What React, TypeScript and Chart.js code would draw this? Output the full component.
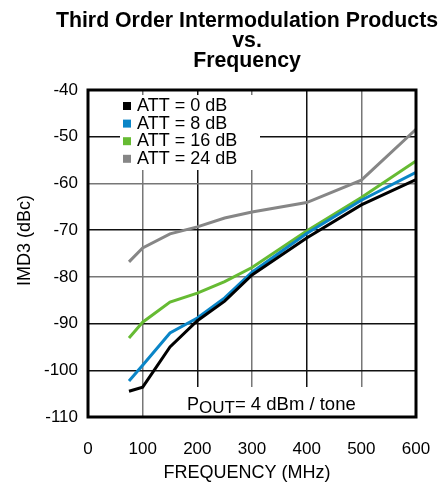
import React, { useEffect, useRef } from "react";
import { Chart, registerables } from "chart.js";

Chart.register(...registerables);

const freqs = [75, 100, 150, 200, 250, 300, 400, 500, 600];
const att0 = [-104.5, -103.6, -95, -89.4, -85.2, -79.6, -71.7, -64.6, -59.2];
const att8 = [-102.3, -98.9, -92, -88.8, -84.5, -79, -70.7, -63.6, -57.6];
const att16 = [-93.1, -89.7, -85.4, -83.5, -81, -78, -70.2, -63, -55.2];
const att24 = [-76.8, -73.8, -70.8, -69.3, -67.4, -66.1, -64.1, -59.3, -48.4];

const seriesLabels = ["ATT = 0 dB", "ATT = 8 dB", "ATT = 16 dB", "ATT = 24 dB"];
const seriesColors = ["#000000", "#0a85c7", "#66bb33", "#868686"];
const seriesValues = [att0, att8, att16, att24];

const titleLines = ["Third Order Intermodulation Products", "vs.", "Frequency"];
const xTitle = "FREQUENCY (MHz)";
const yTitle = "IMD3 (dBc)";

const FONT = "'Liberation Sans', Arial, Helvetica, sans-serif";

const overlayPlugin = {
  id: "overlay",
  beforeDatasetsDraw(chart: any) {
    const { ctx, chartArea } = chart;
    const { left, top, bottom } = chartArea;
    ctx.save();
    ctx.fillStyle = "#ffffff";
    // legend box
    ctx.fillRect(left + 32, top + 5, 140, 75);
    // annotation box
    ctx.fillRect(left + 88, bottom - 30, 200, 29);
    ctx.restore();
  },
  afterDatasetsDraw(chart: any) {
    const { ctx, chartArea } = chart;
    const { left, top, right, bottom } = chartArea;
    ctx.save();
    // frame
    ctx.strokeStyle = "#000";
    ctx.lineWidth = 3;
    ctx.strokeRect(left, top, right - left, bottom - top);

    // legend
    ctx.font = `18px ${FONT}`;
    ctx.textBaseline = "middle";
    ctx.textAlign = "left";
    chart.data.datasets.forEach((ds: any, i: number) => {
      const cy = top + 16 + i * 17.6;
      ctx.fillStyle = ds.borderColor;
      ctx.fillRect(left + 35, cy - 4, 8, 8);
      ctx.fillStyle = "#000";
      ctx.fillText(ds.label, left + 49, cy);
    });

    // annotation
    ctx.textBaseline = "alphabetic";
    ctx.fillStyle = "#000";
    let x = left + 99;
    const base = bottom - 7;
    ctx.font = `18px ${FONT}`;
    ctx.fillText("P", x, base);
    x += ctx.measureText("P").width;
    ctx.font = `17px ${FONT}`;
    ctx.fillText("OUT", x, base + 3);
    x += ctx.measureText("OUT").width;
    ctx.font = `18.5px ${FONT}`;
    ctx.fillText("= 4 dBm / tone", x, base);
    ctx.restore();
  },
  afterDraw(chart: any) {
    const { ctx, chartArea } = chart;
    const cx = (chartArea.left + chartArea.right) / 2 - 5;
    ctx.save();
    ctx.fillStyle = "#000";
    ctx.textAlign = "center";
    ctx.textBaseline = "alphabetic";
    ctx.font = `bold 21.3px ${FONT}`;
    titleLines.forEach((t, i) => {
      ctx.fillText(t, cx, 27 + i * 20);
    });
    ctx.font = `18px ${FONT}`;
    ctx.fillText(xTitle, cx, chartArea.bottom + 61);
    ctx.translate(25, (chartArea.top + chartArea.bottom) / 2 - 13);
    ctx.rotate(-Math.PI / 2);
    ctx.textBaseline = "middle";
    ctx.fillText(yTitle, 0, 0);
    ctx.restore();
  },
};

export default function App() {
  const ref = useRef<HTMLCanvasElement | null>(null);
  useEffect(() => {
    if (!ref.current) return;
    const chart = new Chart(ref.current, {
      type: "line",
      data: {
        datasets: seriesValues.map((vals, i) => ({
          label: seriesLabels[i],
          data: freqs.map((f, j) => ({ x: f, y: vals[j] })),
          borderColor: seriesColors[i],
          backgroundColor: seriesColors[i],
          borderWidth: 3,
          pointRadius: 0,
          tension: 0,
          fill: false,
        })),
      },
      options: {
        animation: false,
        responsive: true,
        maintainAspectRatio: false,
        layout: { padding: { top: 90, right: 27, left: 0, bottom: 0 } },
        plugins: {
          legend: { display: false },
          title: { display: false },
          tooltip: { enabled: false },
        },
        scales: {
          x: {
            type: "linear",
            min: 0,
            max: 600,
            afterFit: (s: any) => {
              s.height = 68;
            },
            ticks: {
              stepSize: 100,
              color: "#000",
              padding: 2,
              font: { family: FONT, size: 17 },
              maxRotation: 0,
            },
            grid: {
              drawTicks: true,
              tickLength: 20,
              tickColor: "rgba(0,0,0,0)",
              lineWidth: 1.5,
              color: (c: any) => (c.tick && c.tick.value % 200 === 0 ? "#111" : "#777"),
            },
            border: { display: false },
          },
          y: {
            type: "linear",
            min: -110,
            max: -40,
            afterFit: (s: any) => {
              s.width = 88;
            },
            ticks: {
              stepSize: 10,
              color: "#000",
              padding: 10,
              font: { family: FONT, size: 17 },
            },
            grid: {
              drawTicks: false,
              lineWidth: 1.5,
              color: (c: any) =>
                c.tick && (c.tick.value === -60 || c.tick.value === -80) ? "#777" : "#111",
            },
            border: { display: false },
          },
        },
      },
      plugins: [overlayPlugin],
    });
    return () => chart.destroy();
  }, []);
  return (
    <div style={{ position: "absolute", left: 0, top: 0, width: 443, height: 485, background: "#fff" }}>
      <canvas ref={ref} style={{ width: "100%", height: "100%" }} />
    </div>
  );
}
